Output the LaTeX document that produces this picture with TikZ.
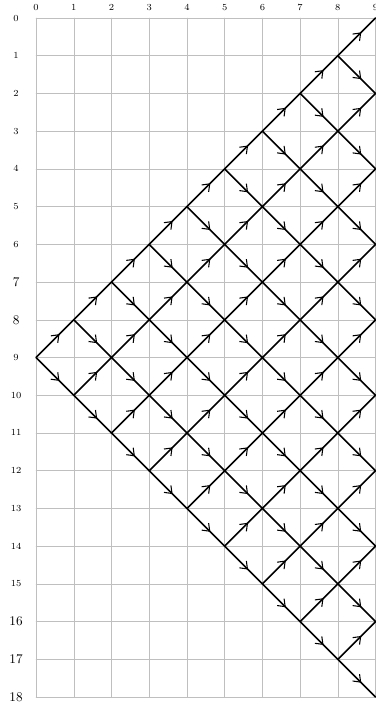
\documentclass[tikz,border=0pt]{standalone}
\usetikzlibrary{decorations.markings, arrows.meta}
\begin{document}
\begin{tikzpicture}[y=-1cm, line join=round, line cap=round, font=\scriptsize]
	\tikzset{
		lattice edge/.style={line width=1.2pt, postaction={decorate},
			decoration={markings, mark=at position 0.62 with {\arrow{Straight Barb[length=1.7mm, width=2.6mm, line width=0.8pt]}}}},
		big label/.style={font=\normalsize}
	}
	\useasboundingbox (-0.956,-0.478) rectangle (9,18.37);
	\draw[gray!50, thin] (0,0) grid (9,18);
	\foreach \x in {0,1,2,3,4,5,6,7,8,9}
	\node (top-\x) at (\x,-0.29) {$\x$};
	\foreach \y in {0,1,2,3,4,5,6,9,10,11,12,13,14,15}
	\node (left-\y) at (-0.53,\y) {$\y$};
	\foreach \y in {7,8,16,17,18}
	\node[big label] (left-\y) at (-0.53,\y) {$\y$};
	% lattice points
	\foreach \x in {0,1,2,3,4,5,6,7,8,9} {
		\foreach \k in {0,...,\x} {
			\pgfmathtruncatemacro{\py}{9-\x+2*\k}
			\coordinate (p-\x-\k) at (\x,\py);
		}
	}
	% edges
	\foreach \x in {0,1,2,3,4,5,6,7,8} {
		\foreach \k in {0,...,\x} {
			\pgfmathtruncatemacro{\nx}{\x+1}
			\pgfmathtruncatemacro{\kk}{\k+1}
			\draw[lattice edge] (p-\x-\k) -- (p-\nx-\k);
			\draw[lattice edge] (p-\x-\k) -- (p-\nx-\kk);
		}
	}
\end{tikzpicture}
\end{document}
